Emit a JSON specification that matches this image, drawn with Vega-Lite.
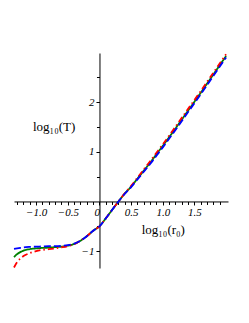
{
  "$schema": "https://vega.github.io/schema/vega-lite/v6.json",
  "autosize": "none",
  "width": 214,
  "height": 215,
  "padding": {"left": 14, "top": 53, "right": 21, "bottom": 55},
  "background": "white",
  "config": {
    "view": {"stroke": null},
    "axis": {
      "grid": false,
      "domainColor": "black",
      "tickColor": "black",
      "labelColor": "black",
      "labelFont": "Liberation Serif",
      "labelFontStyle": "italic",
      "labelFontSize": 11,
      "tickSize": 3,
      "domainWidth": 1,
      "tickWidth": 1,
      "labelOverlap": false,
      "labelFlush": false,
      "title": null
    }
  },
  "resolve": {"axis": {"x": "independent", "y": "independent"}},
  "layer": [
    {
      "data": {"values": [
        {"s": "1g", "x": -1.35, "y": -1.12}, {"s": "1g", "x": -1.3, "y": -1.06}, {"s": "1g", "x": -1.25, "y": -1.02}, {"s": "1g", "x": -1.2, "y": -0.99}, {"s": "1g", "x": -1.1, "y": -0.96}, {"s": "1g", "x": -1.0, "y": -0.945}, {"s": "1g", "x": -0.9, "y": -0.935}, {"s": "1g", "x": -0.8, "y": -0.93}, {"s": "1g", "x": -0.7, "y": -0.92}, {"s": "1g", "x": -0.6, "y": -0.91}, {"s": "1g", "x": -0.5, "y": -0.89}, {"s": "1g", "x": -0.4, "y": -0.855}, {"s": "1g", "x": -0.3, "y": -0.79}, {"s": "1g", "x": -0.2, "y": -0.7}, {"s": "1g", "x": -0.1, "y": -0.59}, {"s": "1g", "x": 0.0, "y": -0.5}, {"s": "1g", "x": 0.1, "y": -0.34}, {"s": "1g", "x": 0.2, "y": -0.17}, {"s": "1g", "x": 0.3, "y": 0.0}, {"s": "1g", "x": 0.4, "y": 0.16}, {"s": "1g", "x": 0.5, "y": 0.3}, {"s": "1g", "x": 0.6, "y": 0.46}, {"s": "1g", "x": 0.7, "y": 0.62}, {"s": "1g", "x": 0.8, "y": 0.78}, {"s": "1g", "x": 0.9, "y": 0.95}, {"s": "1g", "x": 1.0, "y": 1.12}, {"s": "1g", "x": 1.2, "y": 1.47}, {"s": "1g", "x": 1.4, "y": 1.83}, {"s": "1g", "x": 1.6, "y": 2.19}, {"s": "1g", "x": 1.8, "y": 2.56}, {"s": "1g", "x": 2.0, "y": 2.93},
        {"s": "2r", "x": -1.35, "y": -1.33}, {"s": "2r", "x": -1.3, "y": -1.22}, {"s": "2r", "x": -1.25, "y": -1.15}, {"s": "2r", "x": -1.2, "y": -1.1}, {"s": "2r", "x": -1.1, "y": -1.04}, {"s": "2r", "x": -1.0, "y": -1.0}, {"s": "2r", "x": -0.9, "y": -0.975}, {"s": "2r", "x": -0.8, "y": -0.96}, {"s": "2r", "x": -0.7, "y": -0.945}, {"s": "2r", "x": -0.6, "y": -0.925}, {"s": "2r", "x": -0.5, "y": -0.9}, {"s": "2r", "x": -0.4, "y": -0.86}, {"s": "2r", "x": -0.3, "y": -0.79}, {"s": "2r", "x": -0.2, "y": -0.7}, {"s": "2r", "x": -0.1, "y": -0.59}, {"s": "2r", "x": 0.0, "y": -0.5}, {"s": "2r", "x": 0.1, "y": -0.34}, {"s": "2r", "x": 0.2, "y": -0.17}, {"s": "2r", "x": 0.3, "y": 0.0}, {"s": "2r", "x": 0.4, "y": 0.165}, {"s": "2r", "x": 0.5, "y": 0.315}, {"s": "2r", "x": 0.6, "y": 0.48}, {"s": "2r", "x": 0.7, "y": 0.645}, {"s": "2r", "x": 0.8, "y": 0.81}, {"s": "2r", "x": 0.9, "y": 0.98}, {"s": "2r", "x": 1.0, "y": 1.15}, {"s": "2r", "x": 1.2, "y": 1.505}, {"s": "2r", "x": 1.4, "y": 1.865}, {"s": "2r", "x": 1.6, "y": 2.225}, {"s": "2r", "x": 1.8, "y": 2.595}, {"s": "2r", "x": 2.0, "y": 2.965},
        {"s": "3b", "x": -1.35, "y": -0.955}, {"s": "3b", "x": -1.3, "y": -0.945}, {"s": "3b", "x": -1.25, "y": -0.935}, {"s": "3b", "x": -1.2, "y": -0.925}, {"s": "3b", "x": -1.1, "y": -0.915}, {"s": "3b", "x": -1.0, "y": -0.91}, {"s": "3b", "x": -0.9, "y": -0.905}, {"s": "3b", "x": -0.8, "y": -0.9}, {"s": "3b", "x": -0.7, "y": -0.9}, {"s": "3b", "x": -0.6, "y": -0.895}, {"s": "3b", "x": -0.5, "y": -0.88}, {"s": "3b", "x": -0.4, "y": -0.85}, {"s": "3b", "x": -0.3, "y": -0.79}, {"s": "3b", "x": -0.2, "y": -0.7}, {"s": "3b", "x": -0.1, "y": -0.59}, {"s": "3b", "x": 0.0, "y": -0.5}, {"s": "3b", "x": 0.1, "y": -0.34}, {"s": "3b", "x": 0.2, "y": -0.17}, {"s": "3b", "x": 0.3, "y": 0.0}, {"s": "3b", "x": 0.4, "y": 0.155}, {"s": "3b", "x": 0.5, "y": 0.29}, {"s": "3b", "x": 0.6, "y": 0.445}, {"s": "3b", "x": 0.7, "y": 0.6}, {"s": "3b", "x": 0.8, "y": 0.755}, {"s": "3b", "x": 0.9, "y": 0.92}, {"s": "3b", "x": 1.0, "y": 1.09}, {"s": "3b", "x": 1.2, "y": 1.44}, {"s": "3b", "x": 1.4, "y": 1.8}, {"s": "3b", "x": 1.6, "y": 2.16}, {"s": "3b", "x": 1.8, "y": 2.53}, {"s": "3b", "x": 2.0, "y": 2.9}
      ]},
      "mark": {"type": "line", "strokeWidth": 1.8, "interpolate": "monotone"},
      "encoding": {
        "x": {
          "field": "x", "type": "quantitative",
          "scale": {"domain": [-1.35, 2.03], "nice": false, "zero": false},
          "axis": {
            "orient": "bottom",
            "offset": {"expr": "scale('x', 0) * 0 + scale('y', 0) - height"},
            "values": [-1.0, -0.5, 0, 0.5, 1.0, 1.5],
            "labelExpr": "abs(datum.value) < 0.01 ? '0' : format(datum.value, '.1f')",
            "labelAlign": {"condition": {"test": "abs(datum.value) < 0.01", "value": "right"}, "value": "center"},
            "labelPadding": 2,
            "tickSize": 3.5
          }
        },
        "y": {
          "field": "y", "type": "quantitative",
          "scale": {"domain": [-1.34, 2.99], "nice": false, "zero": false},
          "axis": {
            "orient": "left",
            "offset": {"expr": "-scale('x', 0)"},
            "values": [-1, 1, 2],
            "labelExpr": "format(datum.value, 'd')",
            "labelPadding": 2,
            "tickSize": 3.5
          }
        },
        "color": {
          "field": "s", "type": "nominal", "legend": null,
          "scale": {"domain": ["1g", "2r", "3b"], "range": ["#008000", "#ff0000", "#0000ff"]}
        },
        "strokeDash": {
          "field": "s", "type": "nominal", "legend": null,
          "scale": {"domain": ["1g", "2r", "3b"], "range": [[1, 0], [6, 3, 1.5, 3], [7, 3]]}
        },
        "order": {"field": "x", "type": "quantitative"}
      }
    },
    {
      "data": {"values": [
        {"x": -1.05, "y": 1.5, "t": "log₁₀(T)"},
        {"x": 0.667, "y": -0.574, "t": "log₁₀(r₀)"}
      ]},
      "mark": {"type": "text", "align": "left", "baseline": "middle", "font": "Liberation Serif", "fontSize": 13, "color": "black"},
      "encoding": {
        "x": {
          "field": "x", "type": "quantitative",
          "axis": {
            "orient": "bottom",
            "offset": {"expr": "scale('y', 0) - height"},
            "values": [-1.3, -1.2, -1.1, -0.9, -0.8, -0.7, -0.6, -0.4, -0.3, -0.2, -0.1, 0.1, 0.2, 0.3, 0.4, 0.6, 0.7, 0.8, 0.9, 1.1, 1.2, 1.3, 1.4, 1.6, 1.7, 1.8, 1.9],
            "labels": false,
            "domain": false,
            "tickSize": 3
          }
        },
        "y": {
          "field": "y", "type": "quantitative",
          "axis": {
            "orient": "left",
            "offset": {"expr": "-scale('x', 0)"},
            "values": [-0.5, 0.5, 1.5, 2.5],
            "labels": false,
            "domain": false,
            "tickSize": 3
          }
        },
        "text": {"field": "t", "type": "nominal"}
      }
    }
  ]
}
